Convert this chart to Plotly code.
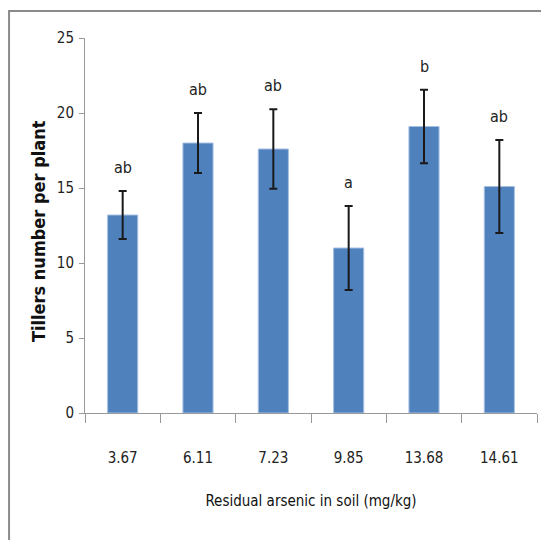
import plotly.graph_objects as go

categories = ["3.67", "6.11", "7.23", "9.85", "13.68", "14.61"]
means = [13.2, 18.0, 17.6, 11.0, 19.1, 15.1]
errors = [1.6, 2.0, 2.65, 2.8, 2.45, 3.1]
letters = ["ab", "ab", "ab", "a", "b", "ab"]
y_ticks = [0, 5, 10, 15, 20, 25]
y_title = "Tillers number per plant"
x_title = "Residual arsenic in soil (mg/kg)"

FONT = "DejaVu Sans Condensed, Liberation Sans Narrow, sans-serif"

fig = go.Figure()
fig.add_trace(go.Bar(
    x=categories, y=means,
    marker=dict(color="#4F81BD", line=dict(color="#A7C0E2", width=1)),
    error_y=dict(type="data", array=errors, visible=True,
                 color="#1a1a1a", thickness=2, width=4),
    width=0.4,
))

for i, (m, e, t) in enumerate(zip(means, errors, letters)):
    fig.add_annotation(x=i, y=m + e, text=t, showarrow=False,
                       xref="x", yref="y",
                       yanchor="bottom", yshift=12,
                       font=dict(family=FONT, size=16, color="#222"))

# y-axis title placed as rotated annotation
fig.add_annotation(x=-0.104, y=0.485, xref="paper", yref="paper",
                   text="<b>" + y_title + "</b>", textangle=-90,
                   showarrow=False, xanchor="center", yanchor="middle",
                   font=dict(family=FONT, size=18, color="#111"))

fig.add_shape(type="rect", xref="paper", yref="paper",
              x0=-0.168, x1=1.2, y0=-0.5, y1=1.072,
              line=dict(color="#8a8a8a", width=2), layer="below")

fig.update_layout(
    width=541, height=532,
    margin=dict(l=77, r=12, t=30, b=127),
    paper_bgcolor="white", plot_bgcolor="white",
    showlegend=False,
    font=dict(family=FONT, size=14, color="#222"),
    xaxis=dict(
        type="category", range=[-0.5, len(categories) - 0.5],
        categoryorder="array", categoryarray=categories,
        showline=True, linecolor="#999", linewidth=1,
        ticks="outside", tickson="boundaries", ticklen=9, tickcolor="#999",
        ticklabelstandoff=31, tickangle=0,
        tickfont=dict(family=FONT, size=15, color="#222"),
        title=dict(text=x_title,
                   font=dict(family=FONT, size=15, color="#111"), standoff=29),
        showgrid=False,
    ),
    yaxis=dict(
        range=[0, 25], tickvals=y_ticks,
        showline=True, linecolor="#999", linewidth=1,
        ticks="outside", ticklen=5, tickcolor="#999",
        ticklabelstandoff=2,
        tickfont=dict(family=FONT, size=15, color="#222"),
        showgrid=False, zeroline=False,
    ),
)

fig.write_html("out.html")
